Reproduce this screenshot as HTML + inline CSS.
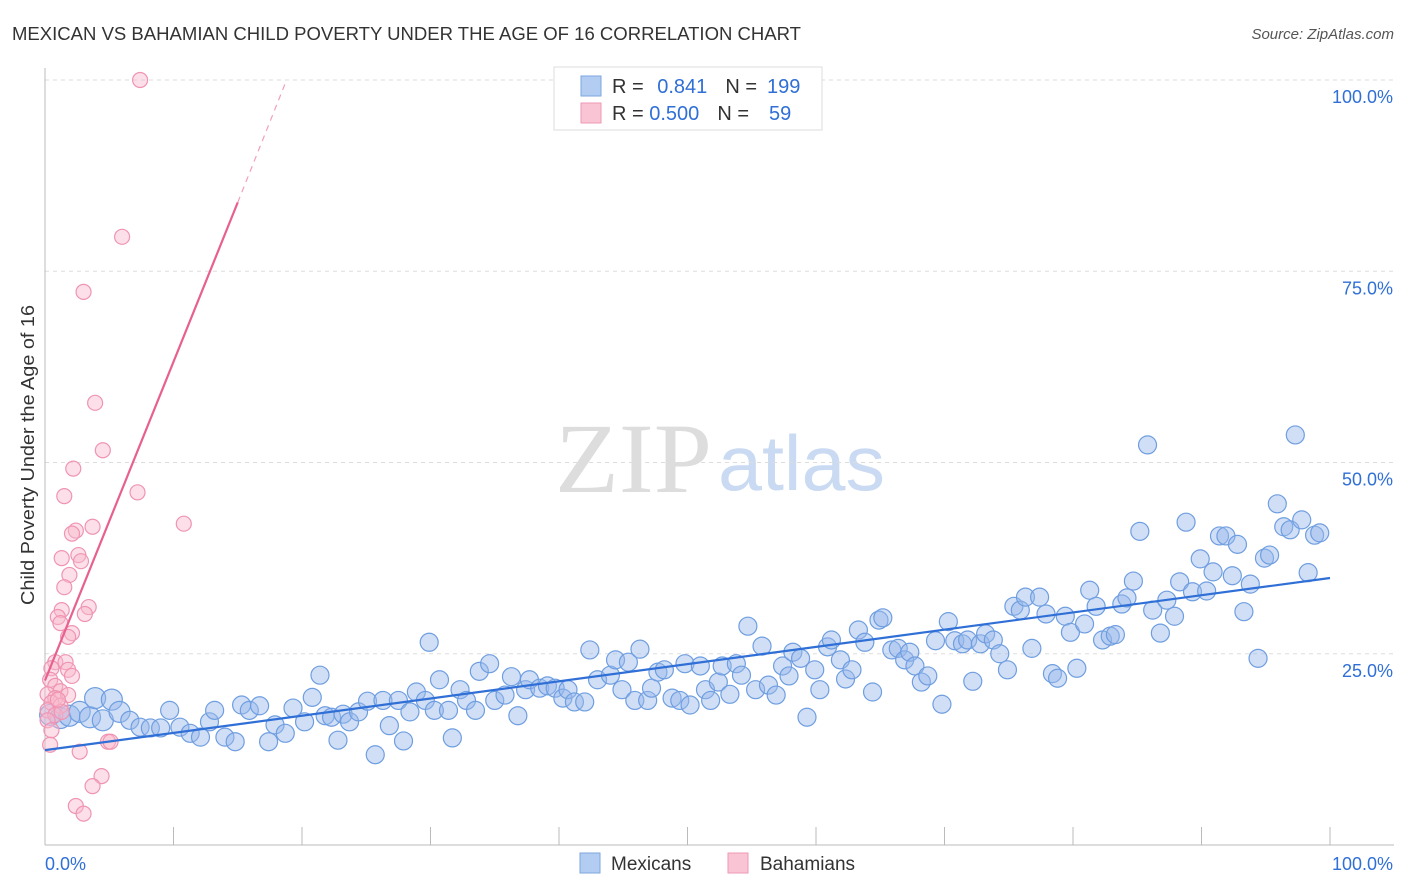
<!DOCTYPE html>
<html><head><meta charset="utf-8">
<style>
body{margin:0;background:#fff;font-family:"Liberation Sans",sans-serif;}
#wrap{position:relative;width:1406px;height:892px;overflow:hidden;}
</style></head>
<body>
<div id="wrap">
<svg id="chart" width="1406" height="892" style="position:absolute;left:0;top:0">
  <text x="12" y="40" font-size="18" fill="#333" textLength="789" lengthAdjust="spacingAndGlyphs">MEXICAN VS BAHAMIAN CHILD POVERTY UNDER THE AGE OF 16 CORRELATION CHART</text>
  <text x="1394" y="39" font-size="15" fill="#555" font-style="italic" text-anchor="end">Source: ZipAtlas.com</text>
  <text transform="translate(34,455) rotate(-90)" font-size="18" fill="#333" text-anchor="middle" textLength="300" lengthAdjust="spacingAndGlyphs">Child Poverty Under the Age of 16</text>
  <text x="555" y="492" font-size="100" fill="#ddd" font-family="Liberation Serif" textLength="157" lengthAdjust="spacingAndGlyphs">ZIP</text>
  <text x="718" y="490" font-size="78" fill="#c9daf2" textLength="167" lengthAdjust="spacingAndGlyphs">atlas</text>
  <g id="grid"></g><g id="pts"></g><g id="trend"></g>
  <g>
    <rect x="554" y="67" width="268" height="63" fill="#fff" stroke="#ddd"/>
    <rect x="581" y="76" width="20" height="20" fill="#b3cdf2" stroke="#7ea6e0"/>
    <rect x="581" y="103" width="20" height="20" fill="#f9c4d4" stroke="#ef9ab4"/>
    <text x="612" y="93" font-size="20" fill="#333">R = <tspan fill="#2f6fd6" dx="8">0.841</tspan><tspan fill="#333" dx="18">N =</tspan><tspan fill="#2f6fd6" dx="10">199</tspan></text>
    <text x="612" y="120" font-size="20" fill="#333">R = <tspan fill="#2f6fd6" dx="0">0.500</tspan><tspan fill="#333" dx="18">N =</tspan><tspan fill="#2f6fd6" dx="20">59</tspan></text>
  </g>
  <g>
    <rect x="580" y="853" width="20" height="20" fill="#b3cdf2" stroke="#7ea6e0"/>
    <text x="611" y="870" font-size="19" fill="#333">Mexicans</text>
    <rect x="728" y="853" width="20" height="20" fill="#f9c4d4" stroke="#ef9ab4"/>
    <text x="760" y="870" font-size="19" fill="#333">Bahamians</text>
  </g>
</svg>
</div>
<script>
const blueX=[0.4,1.2,1.9,2.7,3.5,3.9,4.5,5.2,5.8,6.6,7.4,8.2,9.0,9.7,10.5,11.3,12.1,12.8,13.2,14.0,14.8,15.3,15.9,16.7,17.4,17.9,18.7,19.3,20.2,20.8,21.4,21.8,22.3,22.8,23.2,23.7,24.4,25.1,25.7,26.3,26.8,27.5,27.9,28.4,28.9,29.6,29.9,30.3,30.7,31.4,31.7,32.3,32.8,33.5,33.8,34.6,35.0,35.8,36.3,36.8,37.4,37.7,38.5,39.1,39.7,40.3,40.7,41.2,42.0,42.4,43.0,44.0,44.4,44.9,45.4,45.9,46.3,46.9,47.2,47.7,48.2,48.8,49.4,49.8,50.2,51.0,51.4,51.8,52.4,52.7,53.3,53.8,54.2,54.7,55.3,55.8,56.3,56.9,57.4,57.9,58.2,58.8,59.3,59.9,60.3,60.9,61.2,61.9,62.3,62.8,63.3,63.8,64.4,64.9,65.2,65.9,66.4,66.9,67.3,67.7,68.2,68.7,69.3,69.8,70.3,70.8,71.4,71.8,72.2,72.8,73.2,73.8,74.3,74.9,75.4,75.9,76.3,76.8,77.4,77.9,78.4,78.8,79.4,79.8,80.3,80.9,81.3,81.8,82.3,82.9,83.3,83.8,84.2,84.7,85.2,85.8,86.2,86.8,87.3,87.9,88.3,88.8,89.3,89.9,90.4,90.9,91.4,91.9,92.4,92.8,93.3,93.8,94.4,94.9,95.3,95.9,96.4,96.9,97.3,97.8,98.3,98.8,99.2];
const blueY=[17.0,16.6,16.9,17.4,16.7,19.2,16.3,19.0,17.4,16.3,15.4,15.3,15.3,17.6,15.4,14.6,14.1,16.1,17.6,14.1,13.5,18.3,17.6,18.2,13.5,15.7,14.6,17.9,16.1,19.3,22.2,16.9,16.7,13.7,17.1,16.1,17.4,18.8,11.8,18.9,15.6,18.9,13.6,17.4,20.0,18.9,26.5,17.6,21.6,17.6,14.0,20.3,18.9,17.6,22.7,23.7,18.9,19.6,22.0,16.9,20.3,21.6,20.5,20.8,20.5,19.2,20.3,18.7,18.7,25.5,21.6,22.2,24.2,20.3,23.9,18.9,25.6,18.9,20.5,22.6,22.9,19.2,18.9,23.7,18.3,23.4,20.3,18.9,21.3,23.4,19.7,23.7,22.2,28.6,20.3,26.0,20.9,19.6,23.4,22.1,25.2,24.4,16.7,22.9,20.3,25.9,26.8,24.2,21.7,22.9,28.1,26.5,20.0,29.4,29.7,25.5,25.7,24.2,25.2,23.4,21.3,22.1,26.7,18.4,29.2,26.7,26.3,26.8,21.4,26.3,27.6,26.8,25.0,22.9,31.2,30.7,32.4,25.7,32.4,30.2,22.4,21.8,29.9,27.8,23.1,28.9,33.3,31.2,26.8,27.3,27.5,31.5,32.3,34.5,41.0,52.3,30.7,27.7,32.0,29.9,34.4,42.2,33.1,37.4,33.2,35.7,40.4,40.4,35.2,39.3,30.5,34.1,24.4,37.5,37.9,44.6,41.6,41.2,53.6,42.5,35.6,40.5,40.8];
const pinkX=[7.4,6.0,3.0,3.9,4.5,7.2,2.2,1.5,10.8,3.7,2.4,2.1,1.3,2.6,2.8,1.9,1.5,3.4,1.3,3.1,1.0,1.2,2.1,1.8,0.8,1.6,0.5,1.8,2.1,0.4,0.8,1.2,0.2,0.8,1.8,0.5,0.2,1.2,0.8,0.2,0.5,0.4,2.7,4.9,5.1,4.4,3.7,2.4,3.0,1.3,1.0];
const pinkY=[100,79.5,72.3,57.8,51.6,46.1,49.2,45.6,42.0,41.6,41.1,40.7,37.5,37.9,37.1,35.3,33.7,31.1,30.7,30.2,29.8,29.0,27.7,27.2,23.9,23.9,23.1,22.9,22.1,21.6,20.8,20.1,19.7,19.2,19.6,18.6,17.6,18.2,17.0,16.3,15.0,13.1,12.2,13.5,13.5,9.0,7.7,5.1,4.1,17.4,19.0];
const blueTrend=[12.4,34.9];
const pinkTrend=[21.5,84.0,100];
const pinkTrendX=[0,15,18.8];
const yTicks=[25,50,75,100];
const yTickLabels=["25.0%","50.0%","75.0%","100.0%"];
const xTicks=[0,10,20,30,40,50,60,70,80,90,100];

const X0=45,X1=1330,Y0=845,Y100=80;
function sx(v){return X0+(X1-X0)*v/100;}
function sy(v){return Y0-(Y0-Y100)*v/100;}
const NS="http://www.w3.org/2000/svg";
function mk(tag,attrs,parent){const e=document.createElementNS(NS,tag);for(const k in attrs)e.setAttribute(k,attrs[k]);parent.appendChild(e);return e;}
const grid=document.getElementById('grid');
yTicks.forEach((t,i)=>{
  const l=mk('line',{x1:X0,x2:1394,y1:sy(t),y2:sy(t),stroke:'#ddd','stroke-dasharray':'4,4'},grid);
  
  
  const tx=mk('text',{x:1393,y:sy(t)+23,'font-size':18,fill:'#2f6fd6','text-anchor':'end'},grid);
  tx.textContent=yTickLabels[i];
  
  
});
const ax=mk('line',{x1:X0,x2:X0,y1:68,y2:Y0,stroke:'#bbb'},grid);


const bx=mk('line',{x1:X0,x2:1394,y1:Y0,y2:Y0,stroke:'#bbb'},grid);


xTicks.forEach(t=>{
  const l=mk('line',{x1:sx(t),x2:sx(t),y1:Y0,y2:Y0-18,stroke:'#bbb'},grid);
  
  
});
const xl0=mk('text',{x:45,y:870,'font-size':18,fill:'#2f6fd6'},grid);xl0.textContent='0.0%';


const xl1=mk('text',{x:1393,y:870,'font-size':18,fill:'#2f6fd6','text-anchor':'end'},grid);xl1.textContent='100.0%';



const pts=document.getElementById('pts');
blueX.forEach((x,i)=>{
  const r=x<6?10.5:9;
  const c=mk('circle',{cx:sx(x),cy:sy(blueY[i]),r:r,fill:'rgba(150,185,235,0.45)',stroke:'#6f9ee0','stroke-width':1.2},pts);
  
  
});
pinkX.forEach((x,i)=>{
  const c=mk('circle',{cx:sx(x),cy:sy(pinkY[i]),r:7.5,fill:'rgba(248,185,205,0.45)',stroke:'#ef94b2','stroke-width':1.2},pts);
  
  
});
const tr=document.getElementById('trend');
const bl=mk('line',{x1:sx(0),y1:sy(blueTrend[0]),x2:sx(100),y2:sy(blueTrend[1]),stroke:'#2f6fd6','stroke-width':2.2},tr);


const pl=mk('line',{x1:sx(pinkTrendX[0]),y1:sy(pinkTrend[0]),x2:sx(pinkTrendX[1]),y2:sy(pinkTrend[1]),stroke:'#e8608e','stroke-width':2.2},tr);


const pd=mk('line',{x1:sx(pinkTrendX[1]),y1:sy(pinkTrend[1]),x2:sx(pinkTrendX[2]),y2:sy(pinkTrend[2]),stroke:'#f0a0bb','stroke-width':1.2,'stroke-dasharray':'6,5'},tr);


</script>
</body></html>
